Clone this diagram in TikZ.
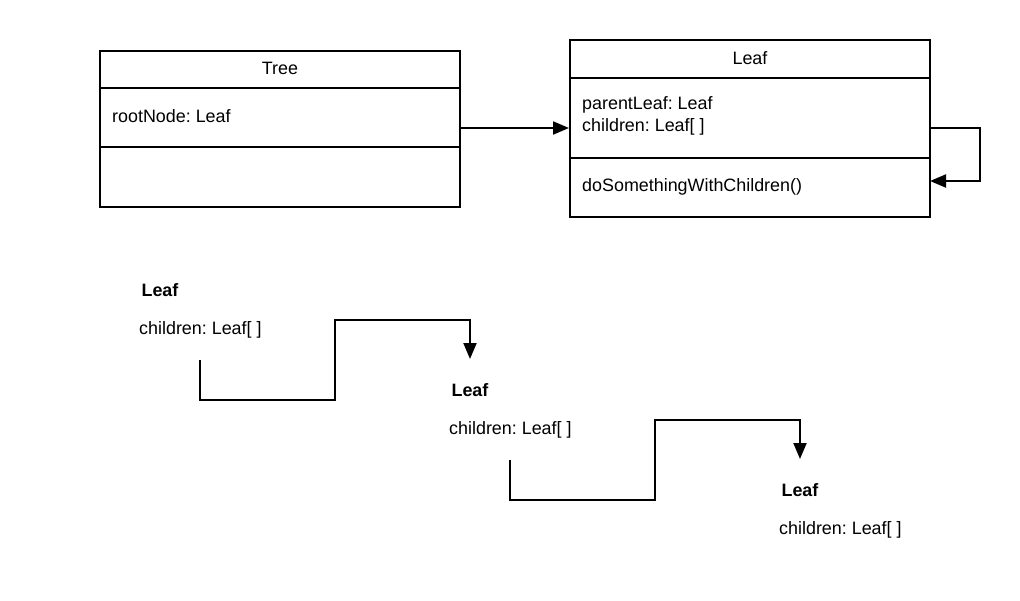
\documentclass[tikz,border=0pt]{standalone}
\usepackage{fontspec}
\setmainfont{Liberation Sans}
\usetikzlibrary{arrows.meta}
\frenchspacing
\begin{document}
\begin{tikzpicture}[x=1pt,y=-1pt,
  box/.style={draw,line width=2pt,inner sep=0pt},
  txt/.style={inner sep=0pt,font=\fontsize{17.9}{21}\selectfont},
  ttl/.style={inner sep=0pt,font=\fontsize{17.9}{21}\selectfont\bfseries},
  conn/.style={line width=2pt,-{Triangle[length=16pt,width=13pt]}},
  plain/.style={line width=2pt}]
\useasboundingbox (0,0) rectangle (1020,600);
% Tree class
\node[box,minimum width=360pt,minimum height=156pt] (tree) at (280,129) {};
\draw[plain] (100,88) -- (460,88);
\draw[plain] (100,147) -- (460,147);
\node[txt] (treet) at (280,68) {Tree};
\node[txt,anchor=west] (treea) at (112,116) {rootNode: Leaf};
% Leaf class
\node[box,minimum width=360pt,minimum height=177pt] (leaf) at (750,128.5) {};
\draw[plain] (570,78) -- (930,78);
\draw[plain] (570,158) -- (930,158);
\node[txt] (leaft) at (750,58) {Leaf};
\node[txt,anchor=west] (leafa1) at (582,105) {parentLeaf: Leaf};
\node[txt,anchor=west] (leafa2) at (582,127) {children: Leaf[ ]};
\node[txt,anchor=west] (leafm) at (582,187) {doSomethingWithChildren()};
% association
\draw[conn] (tree.east |- 0,128) -- (leaf.west |- 0,128);
\coordinate (s1) at (930,128);
\coordinate (s2) at (930,181);
\draw[conn] (s1) -- (980,128) -- (980,181) -- (s2);
% instances
\node[ttl] (l1) at (160,290) {Leaf};
\node[txt,anchor=west] (c1) at (139,330) {children: Leaf[ ]};
\node[ttl] (l2) at (470,390) {Leaf};
\node[txt,anchor=west] (c2) at (449,430) {children: Leaf[ ]};
\node[ttl] (l3) at (800,490) {Leaf};
\node[txt,anchor=west] (c3) at (779,530) {children: Leaf[ ]};
\coordinate (a1) at (200,360);
\coordinate (t1) at (470,359);
\coordinate (a2) at (510,460);
\coordinate (t2) at (800,459);
\draw[conn] (a1) -- (200,400) -- (335,400) -- (335,320) -- (470,320) -- (t1);
\draw[conn] (a2) -- (510,500) -- (655,500) -- (655,420) -- (800,420) -- (t2);
\end{tikzpicture}
\end{document}
